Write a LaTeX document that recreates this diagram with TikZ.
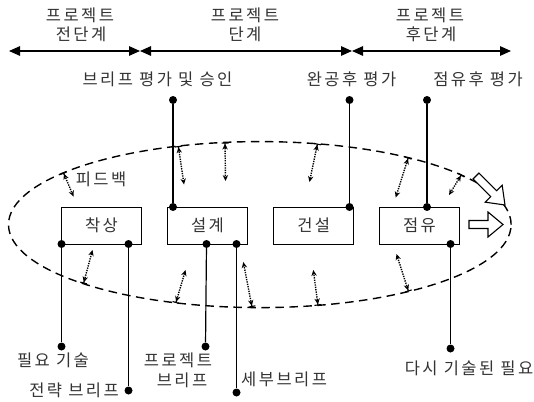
\documentclass[tikz,border=0pt]{standalone}
\usepackage{fontspec}
\newfontfamily\kr[LetterSpace=15]{Noto Sans CJK KR}
\usetikzlibrary{arrows.meta,shapes.geometric}
\begin{document}
\begin{tikzpicture}[x=1pt,y=-1pt,
  lbl/.style={font=\kr\fontsize{16.5}{18}\selectfont, text=black!80, inner sep=0pt},
  stagebox/.style={draw, line width=1pt, minimum width=80pt, minimum height=37pt, inner sep=0pt, font=\kr\fontsize{16.5}{18}\selectfont, text=black!80},
  dot/.style={circle, fill=black, inner sep=0pt, minimum size=8pt},
  conn/.style={line width=1.2pt},
  phase/.style={line width=1.4pt, {Triangle[length=11pt,width=9.5pt]}-{Triangle[length=11pt,width=9.5pt]}},
  fb/.style={line width=1.4pt, dash pattern=on 1.3pt off 1.1pt, {Bar[width=7pt,line width=1.1pt,sep=0pt]Stealth[length=6pt,width=5.5pt,line width=0pt]}-{Stealth[length=6pt,width=5.5pt,line width=0pt]}},
  hollow/.style={draw, line width=1.1pt, fill=white, line join=miter}
]
\useasboundingbox[fill=white] (0,0) rectangle (534,401);

% phase timeline
\coordinate (t0) at (9,51);
\coordinate (t1) at (140,51);
\coordinate (t2) at (352,51);
\coordinate (t3) at (511,51);
\draw[phase] (t0) -- (t1);
\draw[phase] (t1) -- (t2);
\draw[phase] (t2) -- (t3);
\node[lbl] (h1a) at (80,15.5) {프로젝트};
\node[lbl] (h1b) at (81,34) {전단계};
\node[lbl] (h2a) at (245,15.5) {프로젝트};
\node[lbl] (h2b) at (245,34) {단계};
\node[lbl] (h3a) at (430,15.5) {프로젝트};
\node[lbl] (h3b) at (431,34) {후단계};

% ellipse
\node[draw, dash pattern=on 8.5pt off 5.5pt, line width=1.4pt, ellipse, minimum width=502.6pt, minimum height=166pt, inner sep=0pt] (loop) at (259.8,224.6) {};

% boxes
\node[stagebox] (idea) at (101.5,225.5) {착상};
\node[stagebox] (design) at (207.5,225.5) {설계};
\node[stagebox] (build) at (313.7,225.5) {건설};
\node[stagebox] (occupy) at (419.5,225.5) {점유};

% top labels and lines
\node[lbl] (brief) at (157.5,79.5) {브리프 평가 및 승인};
\node[lbl] (post) at (351.5,79.5) {완공후 평가};
\node[lbl] (poe) at (478,79.5) {점유후 평가};
\node[dot] (d1) at (173,100) {};
\node[dot] (d2) at (349.5,100) {};
\node[dot] (d3) at (427,100) {};
\node[dot] (b1) at (173,207) {};
\node[dot] (b2) at (349.5,207) {};
\node[dot] (b3) at (427,207) {};
\draw[conn] (d1) -- (b1);
\draw[conn] (d2) -- (b2);
\draw[conn] (d3) -- (b3);

% bottom lines
\node[dot] (c1) at (61.5,244) {};
\node[dot] (c2) at (128.5,244) {};
\node[dot] (c3) at (206.5,244) {};
\node[dot] (c4) at (236.5,244) {};
\node[dot] (c5) at (450.5,244) {};
\node[dot] (e1) at (61.5,346.5) {};
\node[dot] (e2) at (128.5,390.5) {};
\node[dot] (e3) at (205.5,346.5) {};
\node[dot] (e4) at (236.5,392.5) {};
\node[dot] (e5) at (450.5,348.5) {};
\draw[conn] (c1) -- (e1);
\draw[conn] (c2) -- (e2);
\draw[conn] (c3) -- (e3);
\draw[conn] (c4) -- (e4);
\draw[conn] (c5) -- (e5);
\node[lbl] (need) at (53,360) {필요 기술};
\node[lbl] (strat) at (74,390.5) {전략 브리프};
\node[lbl] (pb1) at (178,360) {프로젝트};
\node[lbl] (pb2) at (182,380.5) {브리프};
\node[lbl, anchor=west] (detail) at (241,379.5) {세부브리프};
\node[lbl] (restate) at (469,368) {다시 기술된 필요};
\node[lbl] (feedback) at (101,179.5) {피드백};

% feedback arrows (ellipse end -> inner end)
\foreach \n/\ex/\ey/\ix/\iy in {
  f1/63.4/172.6/73.6/196.6,
  f2/178.3/146/184/184.5,
  f3/225/142.5/225.5/181,
  f4/317.5/143.6/309.5/182,
  f5/408.3/157.5/395.7/197.5,
  f6/461.5/174.6/449/195,
  f7/83.5/283.5/92.5/250,
  f8/175.8/303/185.5/270,
  f9/252/307/243.3/262,
  f10/318/305.5/313.3/270,
  f11/408.5/291.5/396.5/254}{
  \coordinate (\n e) at (\ex,\ey);
  \coordinate (\n i) at (\ix,\iy);
  \draw[fb] (\n e) -- (\n i);
}

% hollow arrows
\coordinate (o1) at (476,176);
\coordinate (o2) at (469,224.5);
\draw[hollow, shift={(o1)}, rotate=-45] (0,-4.2) -- (25,-4.2) -- (25,-12) -- (41,0) -- (25,12) -- (25,4.2) -- (0,4.2) -- cycle;
\draw[hollow, shift={(o2)}] (0,-4) -- (19,-4) -- (19,-12.5) -- (34,0) -- (19,12.5) -- (19,4) -- (0,4) -- cycle;
\end{tikzpicture}
\end{document}
